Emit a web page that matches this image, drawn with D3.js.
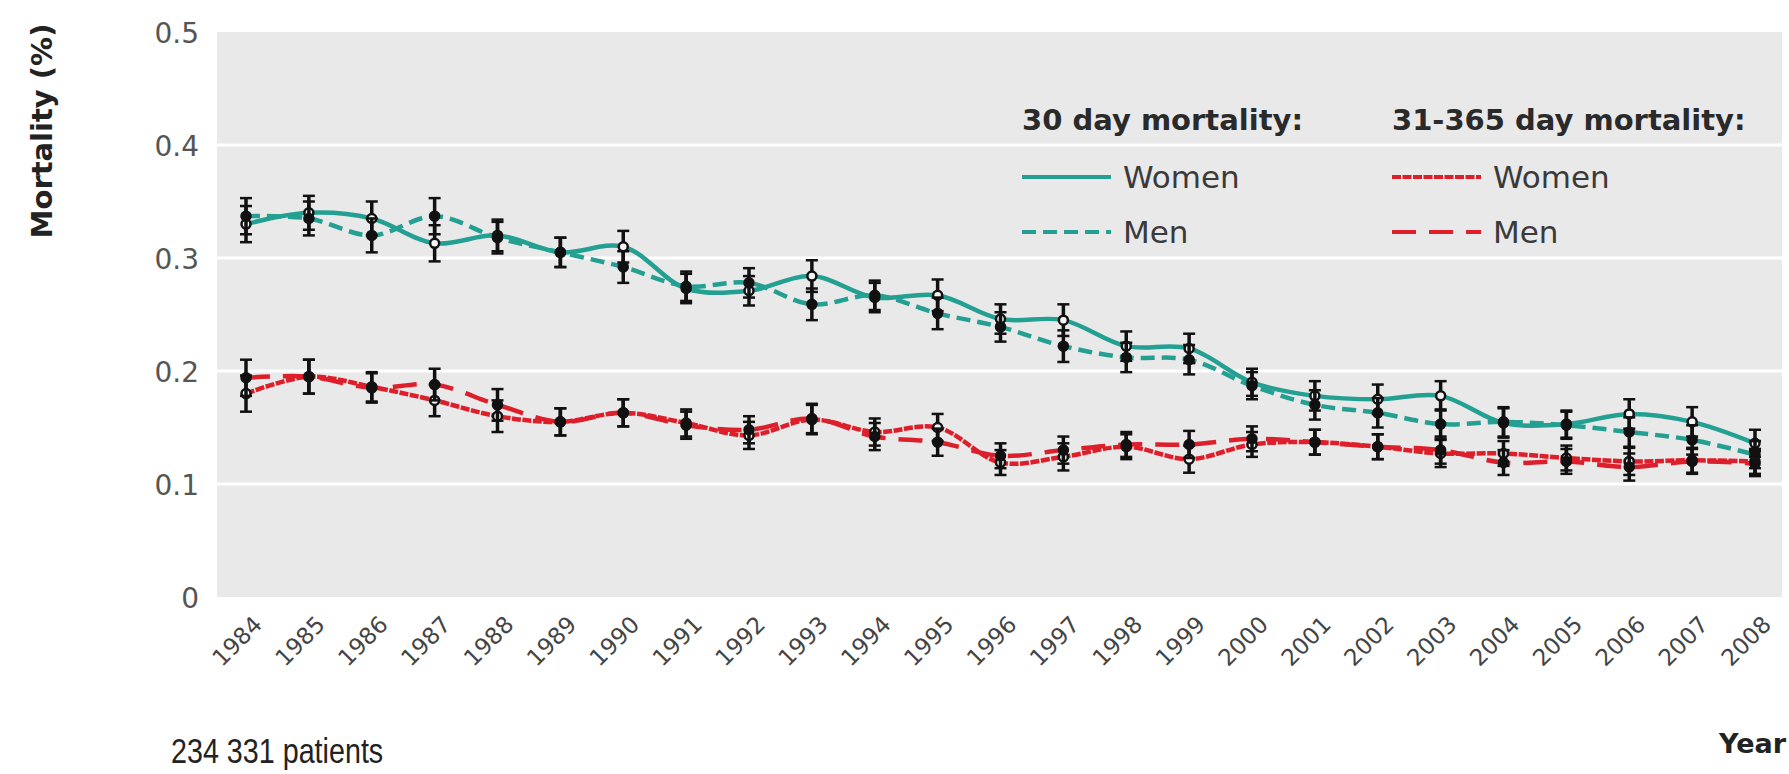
<!DOCTYPE html>
<html>
<head>
<meta charset="utf-8">
<script src="https://cdn.jsdelivr.net/npm/d3@7"></script>
<style>
  html, body { margin: 0; padding: 0; background: #fff; }
  svg { display: block; }
</style>
</head>
<body>
<div id="chart"></div>
<script>
// data
const years = [1984, 1985, 1986, 1987, 1988, 1989, 1990, 1991, 1992, 1993, 1994, 1995, 1996,
    1997, 1998, 1999, 2000, 2001, 2002, 2003, 2004, 2005, 2006, 2007, 2008];

const women30 = [0.330, 0.340, 0.335, 0.313, 0.320, 0.305, 0.310, 0.273, 0.271, 0.284, 0.265, 0.267, 0.246,
    0.245, 0.222, 0.220, 0.190, 0.178, 0.175, 0.178, 0.154, 0.153, 0.162, 0.155, 0.136];
const men30 = [0.337, 0.335, 0.320, 0.337, 0.318, 0.305, 0.292, 0.275, 0.278, 0.259, 0.267, 0.251, 0.239,
    0.222, 0.212, 0.210, 0.187, 0.170, 0.163, 0.153, 0.155, 0.152, 0.146, 0.139, 0.126];
const women365 = [0.180, 0.195, 0.186, 0.174, 0.160, 0.155, 0.163, 0.154, 0.143, 0.157, 0.146, 0.150, 0.119,
    0.124, 0.133, 0.122, 0.135, 0.137, 0.133, 0.127, 0.127, 0.123, 0.120, 0.121, 0.120];
const men365 = [0.194, 0.195, 0.185, 0.188, 0.170, 0.155, 0.163, 0.152, 0.148, 0.158, 0.142, 0.137, 0.125,
    0.130, 0.135, 0.135, 0.140, 0.137, 0.133, 0.130, 0.119, 0.120, 0.115, 0.120, 0.118];

// half width of the 95% CI bars
const err30 = [0.016, 0.015, 0.015, 0.016, 0.014, 0.013, 0.014, 0.013, 0.013, 0.014, 0.013, 0.014, 0.013,
    0.014, 0.013, 0.013, 0.012, 0.013, 0.013, 0.013, 0.013, 0.012, 0.013, 0.013, 0.012];
const err365 = [0.016, 0.015, 0.013, 0.014, 0.014, 0.012, 0.012, 0.012, 0.012, 0.013, 0.012, 0.012, 0.011,
    0.012, 0.011, 0.012, 0.011, 0.011, 0.011, 0.012, 0.011, 0.011, 0.012, 0.011, 0.011];

const yTicks = [0, 0.1, 0.2, 0.3, 0.4, 0.5];

const teal = "#23a092";
const red = "#dc1f2a";
const font = "'DejaVu Sans', sans-serif";

const series = [
    { name: "Women", values: women30, err: err30, color: teal, dash: null, open: true },
    { name: "Men", values: men30, err: err30, color: teal, dash: "14,7", open: false },
    { name: "Women", values: women365, err: err365, color: red, dash: "9,1.5", open: true },
    { name: "Men", values: men365, err: err365, color: red, dash: "24,13", open: false }
];

const W = 1789, H = 774;
const plot = { left: 217, right: 1782, top: 32, bottom: 597 };

const svg = d3.select("#chart")
    .append("svg")
    .attr("width", W)
    .attr("height", H);

const x = d3.scaleLinear()
    .domain([1984, 2008])
    .range([246, 1755]);

const y = d3.scaleLinear()
    .domain([0, 0.5])
    .range([plot.bottom, plot.top]);

// grey panel
svg.append("rect")
    .attr("x", plot.left)
    .attr("y", plot.top)
    .attr("width", plot.right - plot.left)
    .attr("height", plot.bottom - plot.top)
    .attr("fill", "#e9e9e9");

// white grid lines
svg.append("g")
    .selectAll("line")
    .data(yTicks.filter(d => d > 0 && d < 0.5))
    .join("line")
    .attr("x1", plot.left)
    .attr("x2", plot.right)
    .attr("y1", d => y(d))
    .attr("y2", d => y(d))
    .attr("stroke", "#fff")
    .attr("stroke-width", 3);

// y axis
svg.append("g")
    .attr("transform", `translate(${plot.left - 18}, 0)`)
    .call(d3.axisLeft(y).tickValues(yTicks).tickSize(0).tickPadding(0)
        .tickFormat(d => d === 0 ? "0" : d3.format(".1f")(d)))
    .call(g => g.select(".domain").remove())
    .selectAll("text")
    .attr("font-family", font)
    .attr("font-size", 28)
    .attr("fill", "#555")
    .attr("dy", "0.36em");

// x axis
svg.append("g")
    .attr("transform", `translate(0, ${plot.bottom})`)
    .call(d3.axisBottom(x).tickValues(years).tickSize(0).tickFormat(d3.format("d")))
    .call(g => g.select(".domain").remove())
    .selectAll("text")
    .attr("x", 0)
    .attr("y", 0)
    .attr("dy", 0)
    .attr("transform", "translate(17, 29) rotate(-45)")
    .attr("text-anchor", "end")
    .attr("font-family", font)
    .attr("font-size", 23)
    .attr("fill", "#444");

// lines
const line = d3.line()
    .x((d, i) => x(years[i]))
    .y(d => y(d))
    .curve(d3.curveCatmullRom.alpha(0.5));

svg.append("g")
    .selectAll("path")
    .data(series)
    .join("path")
    .attr("d", d => line(d.values))
    .attr("fill", "none")
    .attr("stroke", d => d.color)
    .attr("stroke-width", 4.5)
    .attr("stroke-dasharray", d => d.dash);

// error bars and markers
series.forEach(s => {
    const g = svg.append("g");
    const pts = s.values.map((v, i) => ({ year: years[i], v: v, e: s.err[i] }));

    g.selectAll(".bar")
        .data(pts)
        .join("line")
        .attr("x1", d => x(d.year))
        .attr("x2", d => x(d.year))
        .attr("y1", d => y(d.v - d.e))
        .attr("y2", d => y(d.v + d.e))
        .attr("stroke", "#111")
        .attr("stroke-width", 3.5);

    [-1, 1].forEach(sign => {
        g.selectAll(null)
            .data(pts)
            .join("line")
            .attr("x1", d => x(d.year) - 6)
            .attr("x2", d => x(d.year) + 6)
            .attr("y1", d => y(d.v + sign * d.e))
            .attr("y2", d => y(d.v + sign * d.e))
            .attr("stroke", "#111")
            .attr("stroke-width", 2.5);
    });

    g.selectAll("circle")
        .data(pts)
        .join("circle")
        .attr("cx", d => x(d.year))
        .attr("cy", d => y(d.v))
        .attr("r", 4.5)
        .attr("fill", s.open ? "#f4f4f4" : "#111")
        .attr("stroke", "#111")
        .attr("stroke-width", 2.5);
});

// legend
const legend = svg.append("g").attr("font-family", font);
const legendCols = [
    { title: "30 day mortality:", x: 1022, items: [series[0], series[1]] },
    { title: "31-365 day mortality:", x: 1392, items: [series[2], series[3]] }
];
legendCols.forEach(col => {
    legend.append("text")
        .attr("x", col.x)
        .attr("y", 130)
        .attr("font-size", 29)
        .attr("font-weight", "bold")
        .attr("fill", "#2a2a2a")
        .text(col.title);
    col.items.forEach((s, i) => {
        const ly = 177 + i * 55;
        legend.append("line")
            .attr("x1", col.x)
            .attr("x2", col.x + 89)
            .attr("y1", ly)
            .attr("y2", ly)
            .attr("stroke", s.color)
            .attr("stroke-width", 4)
            .attr("stroke-dasharray", s.dash);
        legend.append("text")
            .attr("x", col.x + 101)
            .attr("y", ly + 11)
            .attr("font-size", 31)
            .attr("fill", "#3a3a3a")
            .text(s.name);
    });
});

// axis titles and footnote
svg.append("text")
    .attr("transform", "translate(52, 131) rotate(-90)")
    .attr("text-anchor", "middle")
    .attr("font-family", font)
    .attr("font-size", 29)
    .attr("font-weight", "bold")
    .attr("fill", "#222")
    .text("Mortality (%)");

svg.append("text")
    .attr("x", 1786)
    .attr("y", 753)
    .attr("text-anchor", "end")
    .attr("font-family", font)
    .attr("font-size", 27)
    .attr("font-weight", "bold")
    .attr("fill", "#222")
    .text("Year");

svg.append("text")
    .attr("transform", "translate(171, 763) scale(0.82, 1)")
    .attr("font-family", "'Liberation Sans', Arial, sans-serif")
    .attr("font-size", 35)
    .attr("fill", "#222")
    .text("234 331 patients");
</script>
</body>
</html>
